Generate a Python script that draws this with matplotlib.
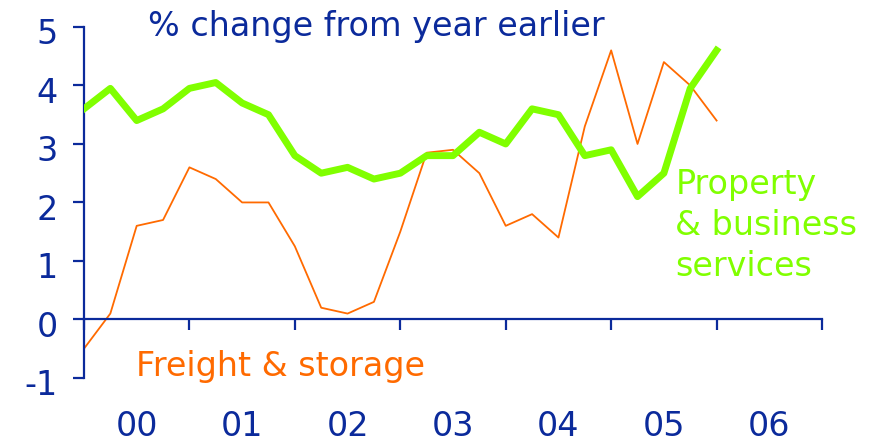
import matplotlib
matplotlib.use('Agg')
import matplotlib.pyplot as plt
import matplotlib.transforms as mtransforms
import numpy as np

NAVY = '#0b2a9b'
ORANGE = '#ff6a00'
GREEN = '#80ff00'

# quarterly data, 2000Q1 .. 2006Q1
quarters = 2000 + np.arange(25) / 4
freight = [-0.5, 0.1, 1.6, 1.7, 2.6, 2.4, 2.0, 2.0, 1.25, 0.2, 0.1, 0.3, 1.5,
           2.85, 2.9, 2.5, 1.6, 1.8, 1.4, 3.3, 4.6, 3.0, 4.4, 4.0, 3.4]
property_bus = [3.6, 3.95, 3.4, 3.6, 3.95, 4.05, 3.7, 3.5, 2.8, 2.5, 2.6, 2.4, 2.5,
                2.8, 2.8, 3.2, 3.0, 3.6, 3.5, 2.8, 2.9, 2.1, 2.5, 3.95, 4.6]
year_labels = ['00', '01', '02', '03', '04', '05', '06']
y_ticks = [-1, 0, 1, 2, 3, 4, 5]

FS = 24

fig = plt.figure(figsize=(8.72, 4.42), dpi=100)
ax = fig.add_axes([0.0963, 0.145, 0.8464, 0.794])

ax.plot(quarters, freight, color=ORANGE, linewidth=1.3, zorder=2)
ax.plot(quarters, property_bus, color=GREEN, linewidth=5, zorder=3)

ax.set_xlim(2000, 2007)
ax.set_ylim(-1, 5)

ax.spines[['top', 'right']].set_visible(False)
ax.spines['bottom'].set_position(('data', 0))
for s in ['left', 'bottom']:
    ax.spines[s].set_color(NAVY)
    ax.spines[s].set_linewidth(1.6)

ax.set_yticks(y_ticks)
ax.set_yticklabels([str(v) for v in y_ticks])
ax.tick_params(axis='y', colors=NAVY, length=8, width=1.6, labelsize=FS, pad=11)
# labels sit a touch below their ticks in the original
shift = mtransforms.ScaledTranslation(0, -3 / 72, fig.dpi_scale_trans)
for lab in ax.get_yticklabels():
    lab.set_transform(lab.get_transform() + shift)

ax.set_xticks(range(2000, 2008))
ax.set_xticklabels([])
ax.tick_params(axis='x', colors=NAVY, length=8, width=1.6, direction='out')
for i, lab in enumerate(year_labels):
    ax.text(2000.5 + i, -2.0, lab, ha='center', va='baseline', fontsize=FS, color=NAVY)

ax.text(2000.61, 4.85, '% change from year earlier', fontsize=FS, color=NAVY, va='baseline', ha='left')
ax.text(2000.49, -0.97, 'Freight & storage', fontsize=FS, color=ORANGE, va='baseline', ha='left')
for lab, yb in zip(['Property', '& business', 'services'], [2.15, 1.44, 0.735]):
    ax.text(2005.61, yb, lab, fontsize=FS, color=GREEN, va='baseline', ha='left')

fig.savefig('out.png', dpi=100, facecolor='white')
